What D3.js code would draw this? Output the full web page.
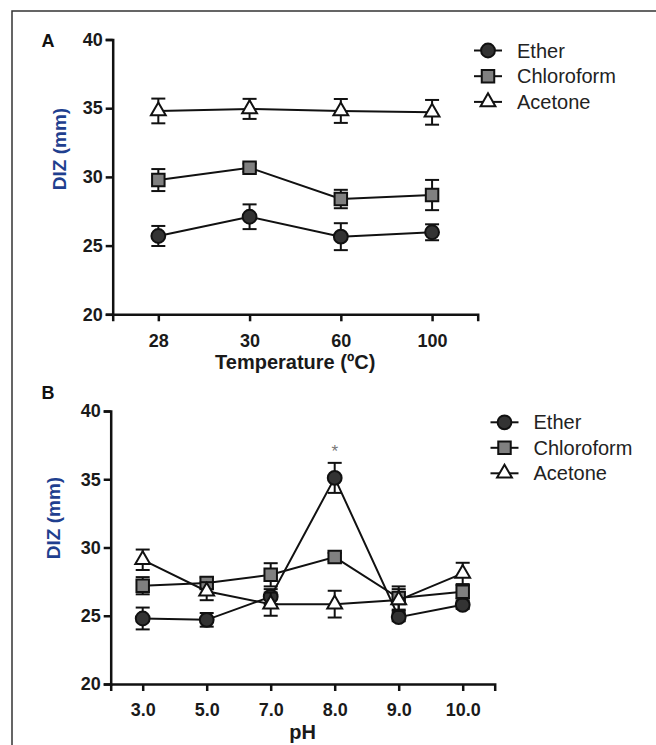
<!DOCTYPE html>
<html><head><meta charset="utf-8">
<script src="https://cdn.jsdelivr.net/npm/d3@7"></script>
<style>body{margin:0;background:#fff}svg{display:block}</style>
</head><body><svg id="c" width="656" height="745"></svg>
<script>
// ---- data ----
const seriesNames = ["Ether", "Chloroform", "Acetone"];
const tempCats = ["28", "30", "60", "100"];
const tempEther = [25.7, 27.1, 25.65, 25.97];
const tempEtherErr = [0.73, 0.9, 0.98, 0.58];
const tempChloro = [29.77, 30.67, 28.39, 28.68];
const tempChloroErr = [0.8, 0.3, 0.67, 1.1];
const tempAcetone = [34.8, 34.95, 34.8, 34.7];
const tempAcetoneErr = [0.9, 0.73, 0.87, 0.9];

const phCats = ["3.0", "5.0", "7.0", "8.0", "9.0", "10.0"];
const phEther = [24.8, 24.7, 26.4, 35.1, 24.9, 25.8];
const phEtherErr = [0.8, 0.5, 0.55, 1.1, 0.3, 0.3];
const phChloro = [27.2, 27.4, 28.0, 29.3, 26.3, 26.75];
const phChloroErr = [0.63, 0.4, 0.85, 0.3, 0.85, 0.5];
const phAcetone = [29.1, 26.8, 25.85, 25.85, 26.15, 28.1];
const phAcetoneErr = [0.75, 0.66, 0.85, 0.98, 0.8, 0.78];

const yTicks = [20, 25, 30, 35, 40];

const svg = d3.select("#c");
const FONT = "'Liberation Sans', Arial, sans-serif";

// outer frame
svg.append("path").attr("d", "M12,745 L12,11 L656,11")
  .attr("fill", "none").attr("stroke", "#333").attr("stroke-width", 1.5);

const styles = [
  {shape: d3.symbolCircle, size: 150, fill: "#333333"},
  {shape: d3.symbolSquare, size: 156, fill: "#808080"},
  {shape: d3.symbolTriangle, size: 95, fill: "#ffffff"}
];

function panel(cfg) {
  const g = svg.append("g");
  const x = d3.scalePoint().domain(cfg.cats).range([cfg.x0, cfg.x1]).padding(0.5);
  const y = d3.scaleLinear().domain([20, 40]).range([cfg.yb, cfg.yt]);

  const yAx = g.append("g").attr("transform", `translate(${cfg.x0},0)`)
    .call(d3.axisLeft(y).tickValues(yTicks).tickSizeOuter(0).tickSize(7).tickPadding(3));
  const xAx = g.append("g").attr("transform", `translate(0,${cfg.yb})`)
    .call(d3.axisBottom(x).tickSizeOuter(0).tickSize(7).tickPadding(cfg.xPad));
  [yAx, xAx].forEach(a => {
    a.select(".domain").attr("stroke", "#111").attr("stroke-width", 2.5);
    a.selectAll(".tick line").attr("stroke", "#111").attr("stroke-width", 2.5);
    a.selectAll(".tick text").attr("font-family", FONT).attr("font-weight", "bold")
      .attr("font-size", 18).attr("fill", "#1a1a1a");
  });

  // axis titles
  g.append("text").attr("x", (cfg.x0 + cfg.x1) / 2).attr("y", cfg.xTitleY)
    .attr("text-anchor", "middle").attr("font-family", FONT).attr("font-weight", "bold")
    .attr("font-size", 20).attr("fill", "#1a1a1a").text(cfg.xTitle);
  g.append("text").attr("transform", `translate(${cfg.yTitleX},${cfg.yTitleY}) rotate(-90)`)
    .attr("text-anchor", "middle").attr("font-family", FONT).attr("font-weight", "bold")
    .attr("font-size", 19).attr("fill", "#1f3f8f").text("DIZ (mm)");
  g.append("text").attr("x", 48).attr("y", cfg.letterY).attr("text-anchor", "middle")
    .attr("font-family", FONT).attr("font-weight", "bold").attr("font-size", 18)
    .attr("fill", "#111").text(cfg.letter);

  const line = d3.line().x((d, i) => x(cfg.cats[i])).y(d => y(d));
  cfg.series.forEach((s, k) => {
    const sg = g.append("g");
    sg.append("path").attr("d", line(s.v)).attr("fill", "none")
      .attr("stroke", "#111").attr("stroke-width", 2);
    s.v.forEach((v, i) => {
      const cx = x(cfg.cats[i]);
      const t = y(v + s.e[i]), b = y(v - s.e[i]);
      sg.append("line").attr("x1", cx).attr("x2", cx).attr("y1", t).attr("y2", b)
        .attr("stroke", "#111").attr("stroke-width", 2);
      [t, b].forEach(yy => sg.append("line").attr("x1", cx - 7).attr("x2", cx + 7)
        .attr("y1", yy).attr("y2", yy).attr("stroke", "#111").attr("stroke-width", 2));
    });
    sg.selectAll("path.m").data(s.v).join("path").attr("class", "m")
      .attr("d", d3.symbol().type(styles[k].shape).size(styles[k].size))
      .attr("transform", (d, i) => `translate(${x(cfg.cats[i])},${y(d)})`)
      .attr("fill", styles[k].fill).attr("stroke", "#111").attr("stroke-width", 2);
  });

  // legend
  seriesNames.forEach((n, k) => {
    const ly = cfg.legY + k * cfg.legStep;
    g.append("line").attr("x1", cfg.legX - 14).attr("x2", cfg.legX + 14)
      .attr("y1", ly).attr("y2", ly).attr("stroke", "#111").attr("stroke-width", 2);
    g.append("path").attr("d", d3.symbol().type(styles[k].shape).size(styles[k].size)())
      .attr("transform", `translate(${cfg.legX},${ly})`)
      .attr("fill", styles[k].fill).attr("stroke", "#111").attr("stroke-width", 2);
    g.append("text").attr("x", cfg.legX + 29).attr("y", ly + 7)
      .attr("font-family", FONT).attr("font-size", 20).attr("fill", "#222").text(n);
  });
  return {x, y, g};
}

panel({
  cats: tempCats, x0: 112.7, x1: 477.7, yb: 314.3, yt: 39.5, xPad: 13,
  xTitle: "Temperature (ºC)", xTitleY: 369, yTitleX: 66, yTitleY: 149,
  letter: "A", letterY: 47,
  legX: 488, legY: 50.5, legStep: 25.7,
  series: [
    {v: tempEther, e: tempEtherErr},
    {v: tempChloro, e: tempChloroErr},
    {v: tempAcetone, e: tempAcetoneErr}
  ]
});

const pB = panel({
  cats: phCats, x0: 110.7, x1: 494.7, yb: 684, yt: 411, xPad: 12,
  xTitle: "pH", xTitleY: 739, yTitleX: 60, yTitleY: 518,
  letter: "B", letterY: 399,
  legX: 504.5, legY: 422.3, legStep: 25.5,
  series: [
    {v: phEther, e: phEtherErr},
    {v: phChloro, e: phChloroErr},
    {v: phAcetone, e: phAcetoneErr}
  ]
});

// significance mark
pB.g.append("text").attr("x", pB.x("8.0")).attr("y", pB.y(phEther[3] + phEtherErr[3]) - 4)
  .attr("dy", -2).attr("text-anchor", "middle").attr("font-family", FONT)
  .attr("font-size", 17).attr("fill", "#777").text("*");
</script></body></html>
